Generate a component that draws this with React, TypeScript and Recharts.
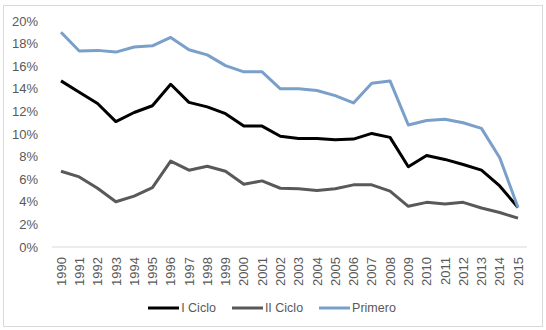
import React from "react";
import { LineChart, Line, XAxis, YAxis, Legend } from "recharts";

const years = [
  "1990", "1991", "1992", "1993", "1994", "1995", "1996", "1997", "1998", "1999",
  "2000", "2001", "2002", "2003", "2004", "2005", "2006", "2007", "2008", "2009",
  "2010", "2011", "2012", "2013", "2014", "2015",
];

const iCiclo = [
  14.7, 13.7, 12.7, 11.1, 11.9, 12.5, 14.4, 12.8, 12.4, 11.8,
  10.7, 10.7, 9.8, 9.6, 9.6, 9.5, 9.55, 10.05, 9.7, 7.1,
  8.1, 7.75, 7.3, 6.8, 5.4, 3.5,
];

const iiCiclo = [
  6.7, 6.2, 5.2, 4.0, 4.5, 5.25, 7.6, 6.8, 7.15, 6.7,
  5.55, 5.85, 5.2, 5.15, 5.0, 5.15, 5.5, 5.5, 4.95, 3.6,
  3.95, 3.8, 3.95, 3.45, 3.05, 2.55,
];

const primero = [
  19.0, 17.35, 17.4, 17.25, 17.7, 17.8, 18.55, 17.45, 17.0, 16.05,
  15.5, 15.5, 14.0, 14.0, 13.85, 13.4, 12.75, 14.5, 14.7, 10.8,
  11.2, 11.3, 11.0, 10.5, 7.9, 3.5,
];

const yTicks = [0, 2, 4, 6, 8, 10, 12, 14, 16, 18, 20];

const seriesInfo = [
  { key: "iCiclo", name: "I Ciclo", color: "#000000" },
  { key: "iiCiclo", name: "II Ciclo", color: "#595959" },
  { key: "primero", name: "Primero", color: "#7A9FC9" },
];

const data = years.map((year, i) => ({
  year,
  iCiclo: iCiclo[i],
  iiCiclo: iiCiclo[i],
  primero: primero[i],
}));

const FONT = "'Liberation Sans', Arial, sans-serif";
const TEXT_COLOR = "#595959";

const YearTick = (props: any) => {
  const { x, y, payload } = props;
  return (
    <text
      transform={`translate(${x},${y}) rotate(-90)`}
      textAnchor="end"
      dy="0.36em"
      fill={TEXT_COLOR}
      fontSize={13}
      fontFamily={FONT}
    >
      {payload.value}
    </text>
  );
};

const LegendContent = () => (
  <div
    style={{
      display: "flex",
      justifyContent: "center",
      alignItems: "center",
      fontFamily: FONT,
      fontSize: 12.5,
      color: TEXT_COLOR,
    }}
  >
    {seriesInfo.map((s) => (
      <div key={s.key} style={{ display: "flex", alignItems: "center", margin: "0 8px" }}>
        <svg width={31} height={6} style={{ marginRight: 2 }}>
          <line x1={0} y1={3} x2={31} y2={3} stroke={s.color} strokeWidth={3} />
        </svg>
        <span>{s.name}</span>
      </div>
    ))}
  </div>
);

export default function App() {
  return (
    <div style={{ position: "absolute", left: 0, top: 0, width: 546, height: 330, background: "#fff" }}>
      <div
        style={{
          position: "absolute",
          left: 3,
          top: 5,
          width: 538,
          height: 320,
          border: "1px solid #D9D9D9",
        }}
      />
      <div style={{ position: "absolute", left: 0, top: 0 }}>
        <LineChart
          width={546}
          height={330}
          data={data}
          margin={{ top: 21, right: 19, bottom: 19, left: 0 }}
        >
          <XAxis
            dataKey="year"
            type="category"
            interval={0}
            padding={{ left: 9, right: 9 }}
            axisLine={{ stroke: "#D9D9D9", strokeWidth: 1 }}
            tickLine={false}
            tick={<YearTick />}
            tickMargin={4}
            height={50}
          />
          <YAxis
            domain={[0, 20]}
            ticks={yTicks}
            interval={0}
            width={52}
            axisLine={false}
            tickLine={false}
            tickFormatter={(v: number) => `${v}%`}
            tick={{ fill: TEXT_COLOR, fontSize: 13, fontFamily: FONT }}
            tickMargin={8}
          />
          <Legend
            content={<LegendContent />}
            wrapperStyle={{ position: "absolute", left: -1, top: 301, width: 546 }}
          />
          {seriesInfo.map((s) => (
            <Line
              key={s.key}
              type="linear"
              dataKey={s.key}
              name={s.name}
              stroke={s.color}
              strokeWidth={3}
              dot={false}
              activeDot={false}
              strokeLinejoin="round"
              isAnimationActive={false}
            />
          ))}
        </LineChart>
      </div>
    </div>
  );
}
